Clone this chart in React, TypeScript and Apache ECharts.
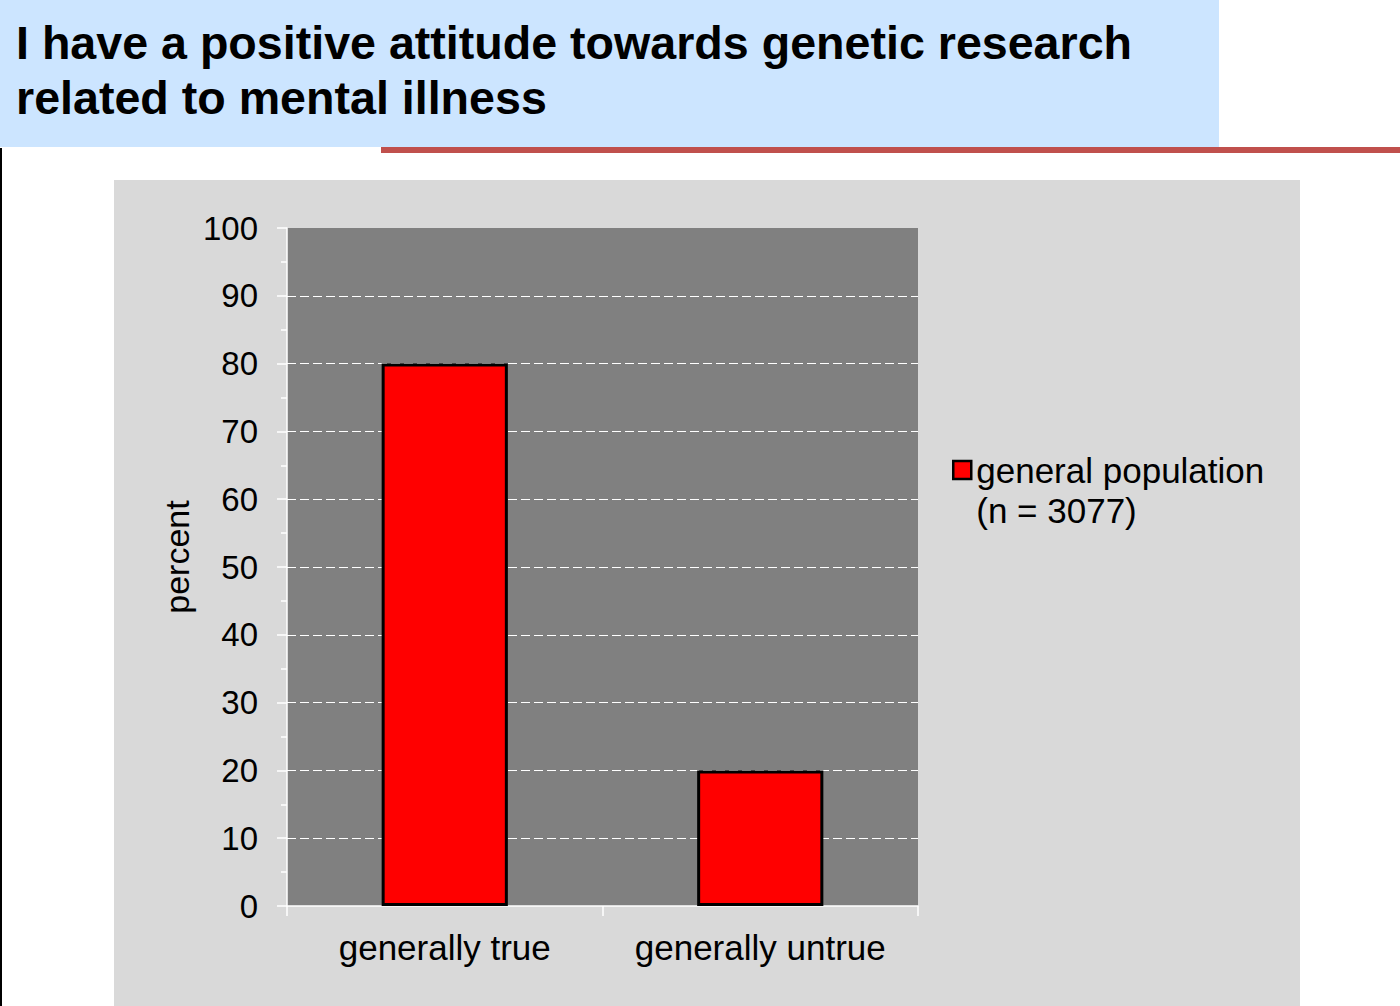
import React, { useEffect, useRef } from "react";
import * as echarts from "echarts";

const titleLines = [
  "I have a positive attitude towards genetic research",
  "related to mental illness",
];
const categories = ["generally true", "generally untrue"];
const seriesName = "general population";
const seriesNote = "(n = 3077)";
const values = [80, 20];
const yAxisName = "percent";

const FONT = "'Liberation Sans', Arial, sans-serif";

export default function App() {
  const ref = useRef<HTMLDivElement>(null);
  useEffect(() => {
    document.body.style.margin = "0";
    const chart = echarts.init(ref.current!, undefined, { renderer: "svg" });
    chart.setOption({
      animation: false,
      textStyle: { fontFamily: FONT },
      graphic: [
        { type: "rect", z: -10, shape: { x: 0, y: 0, width: 1219, height: 147 }, style: { fill: "#CCE5FF" } },
        { type: "rect", z: -10, shape: { x: 381, y: 147, width: 1019, height: 6 }, style: { fill: "#C0504D" } },
        { type: "rect", z: -10, shape: { x: 114, y: 180, width: 1186, height: 826 }, style: { fill: "#D9D9D9" } },
        { type: "rect", z: -10, shape: { x: 0, y: 148, width: 2, height: 858 }, style: { fill: "#000000" } },
        {
          type: "text",
          z: 5,
          x: 16,
          y: 19,
          style: {
            text: titleLines[0],
            font: `bold 46.6px ${FONT}`,
            fill: "#000",
            verticalAlign: "top",
          },
        },
        {
          type: "text",
          z: 5,
          x: 16,
          y: 74,
          style: {
            text: titleLines[1],
            font: `bold 46.6px ${FONT}`,
            fill: "#000",
            verticalAlign: "top",
          },
        },
      ],
      grid: {
        left: 287,
        top: 228,
        width: 631,
        height: 678,
        show: true,
        backgroundColor: "#808080",
        borderWidth: 0,
      },
      legend: {
        left: 947,
        top: 405,
        orient: "vertical",
        icon: "rect",
        itemWidth: 18,
        itemHeight: 18,
        data: [seriesName],
        formatter: (n: string) => `\n${n}\n${seriesNote}`,
        textStyle: {
          fontSize: 35,
          color: "#000",
          fontFamily: FONT,
          lineHeight: 40,
        },
        itemStyle: { borderColor: "#000", borderWidth: 2.5 },
      },
      xAxis: {
        type: "category",
        data: categories,
        axisLine: { lineStyle: { color: "#FFFFFF", width: 1.5 } },
        axisTick: { show: true, length: 10, lineStyle: { color: "#FFFFFF", width: 1.5 } },
        axisLabel: { fontSize: 35, color: "#000", margin: 24, fontFamily: FONT, interval: 0 },
        splitLine: { show: false },
      },
      yAxis: {
        type: "value",
        min: 0,
        max: 100,
        interval: 10,
        name: yAxisName,
        nameLocation: "middle",
        nameGap: 93,
        nameTextStyle: { fontSize: 34, color: "#000", fontFamily: FONT, padding: [0, 0, 0, 20] },
        axisLine: { show: true, lineStyle: { color: "#FFFFFF", width: 1.5 } },
        axisTick: { show: true, length: 10, lineStyle: { color: "#FFFFFF", width: 1.5 } },
        minorTick: { show: true, splitNumber: 2, length: 6, lineStyle: { color: "#FFFFFF", width: 1.5 } },
        axisLabel: { fontSize: 33, color: "#000", margin: 29, fontFamily: FONT },
        splitLine: {
          show: true,
          showMinLine: false,
          showMaxLine: false,
          lineStyle: { color: "#FFFFFF", width: 1, type: [9, 4] },
        },
      },
      series: [
        {
          name: seriesName,
          type: "bar",
          data: values,
          barWidth: "40%",
          itemStyle: { color: "#FF0000", borderColor: "#000000", borderWidth: 3 },
        },
      ],
    });
    return () => chart.dispose();
  }, []);
  return (
    <div
      ref={ref}
      style={{ position: "absolute", left: 0, top: 0, width: 1400, height: 1006 }}
    />
  );
}
